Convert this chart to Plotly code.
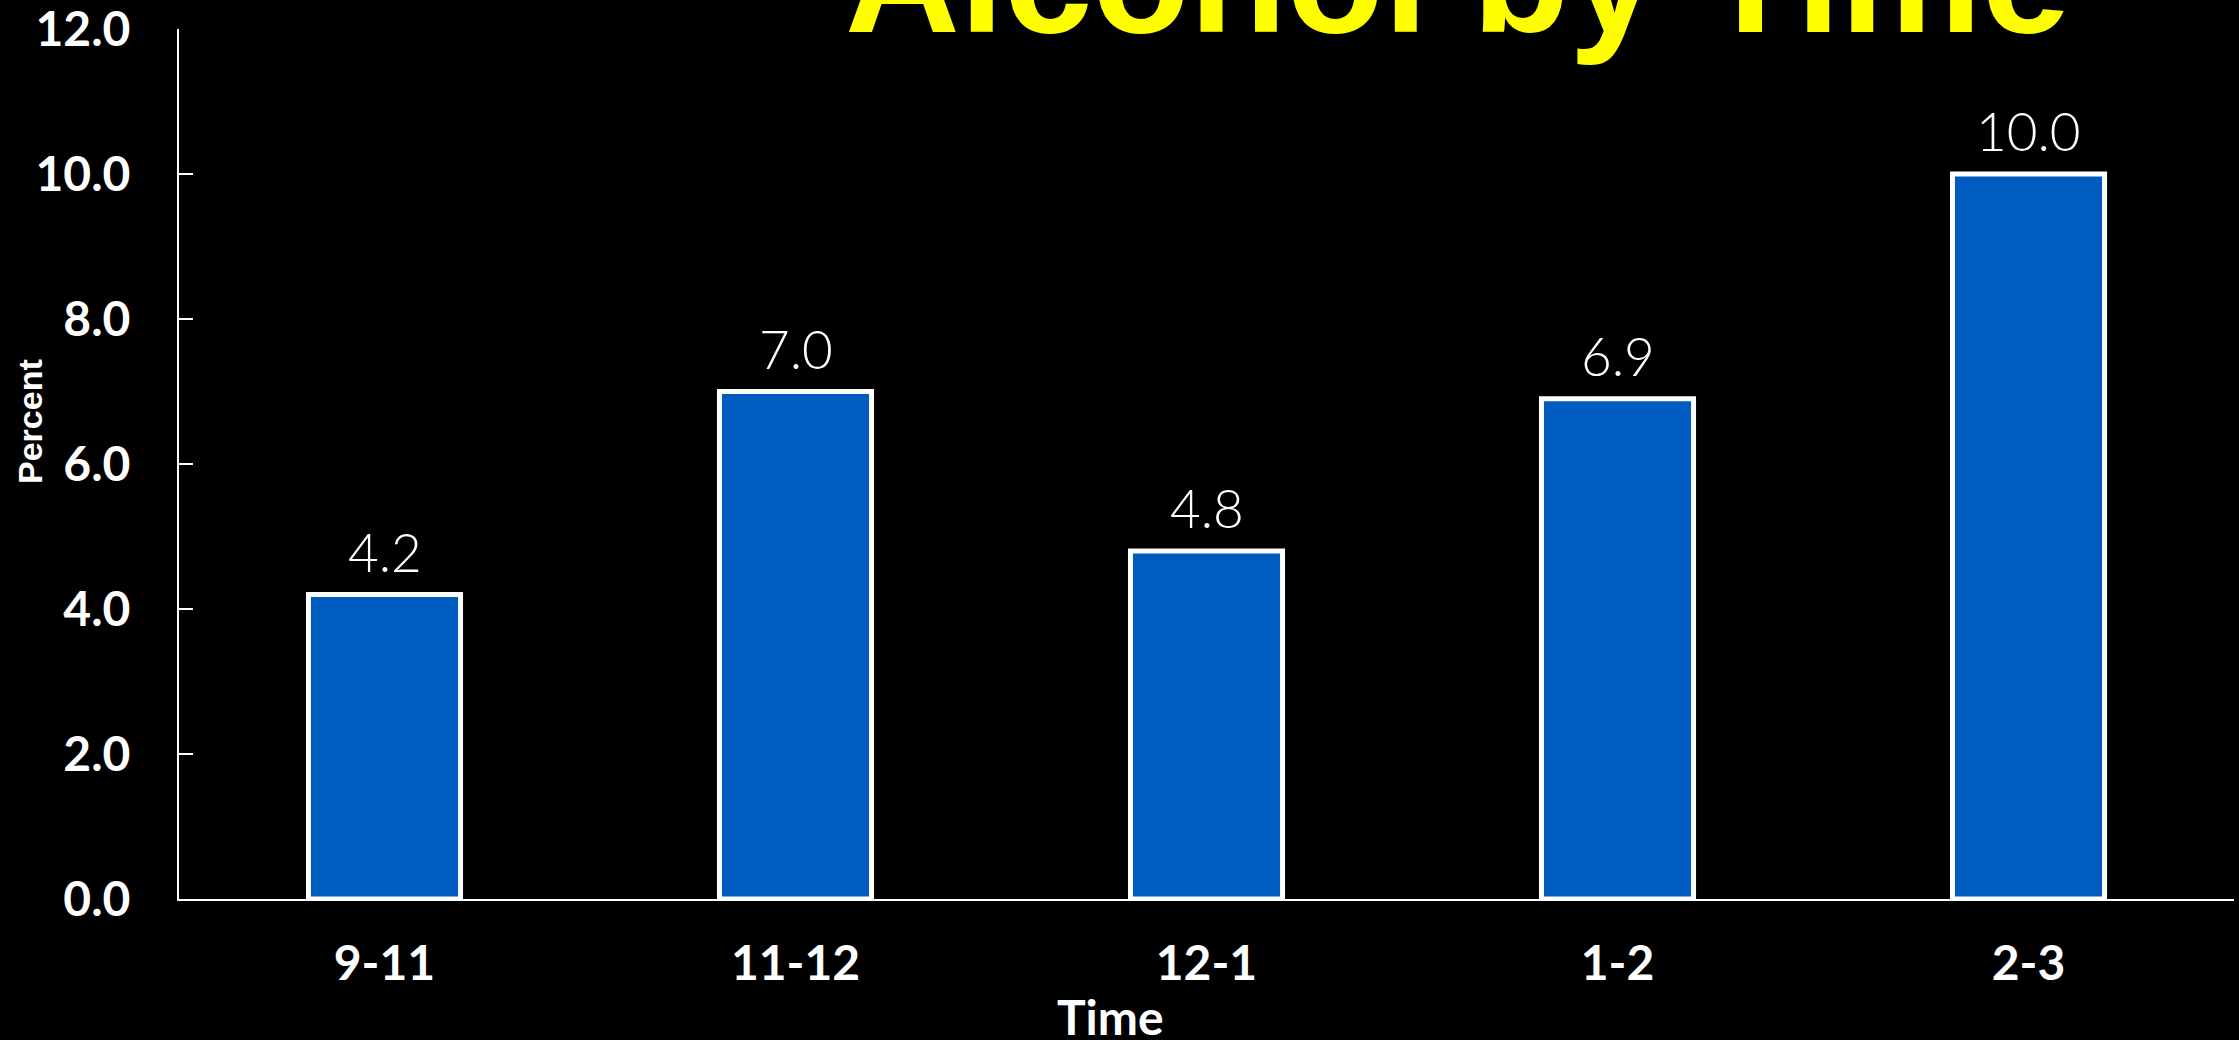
import plotly.graph_objects as go

categories = ["9-11", "11-12", "12-1", "1-2", "2-3"]
values = [4.2, 7.0, 4.8, 6.9, 10.0]
y_ticks = [0, 2, 4, 6, 8, 10, 12]
y_tick_labels = ["0.0", "2.0", "4.0", "6.0", "8.0", "10.0", "12.0"]
title_text = "Alcohol by Time"

W, H = 2239, 1040
ML, MR, MT, MB = 179, 5, 29, 141
PW, PH = W - ML - MR, H - MT - MB

fig = go.Figure()
fig.add_trace(go.Bar(
    x=categories, y=values,
    width=0.37,
    marker=dict(color="#005BBF", line=dict(color="white", width=5)),
    hoverinfo="skip",
))

for c, v in zip(categories, values):
    fig.add_annotation(
        x=c, y=v, xref="x", yref="y",
        text=f"{v:.1f}", showarrow=False,
        xanchor="center", yanchor="bottom", yshift=10,
        font=dict(family="Lato", size=53, color="white", weight=300),
    )

fig.update_layout(
    width=W, height=H,
    paper_bgcolor="black", plot_bgcolor="black",
    margin=dict(l=ML, r=MR, t=MT, b=MB),
    showlegend=False,
    xaxis=dict(
        type="category", automargin=False,
        showline=True, linecolor="white", linewidth=2,
        showgrid=False, ticks="", zeroline=False,
        tickfont=dict(family="Lato", size=48, color="white", weight="bold"),
        ticklabelstandoff=21,
        range=[-0.5, 4.5],
    ),
    yaxis=dict(
        range=[0, 12], automargin=False,
        tickvals=y_ticks, ticktext=y_tick_labels,
        showline=True, linecolor="white", linewidth=2,
        showgrid=False, zeroline=False,
        ticks="inside", ticklen=14, tickwidth=2, tickcolor="white",
        tickfont=dict(family="Lato", size=48, color="white", weight="bold"),
        ticklabelstandoff=37, ticklabeloverflow="allow",
    ),
    font=dict(family="Lato", color="white"),
)

# axis titles (placed off-centre as in the reference)
fig.add_annotation(
    text="Percent", xref="paper", yref="paper",
    x=(30 - ML) / PW, y=(H - MB - 422) / PH,
    xanchor="center", yanchor="middle", textangle=-90,
    showarrow=False,
    font=dict(family="Liberation Sans", size=34, color="white", weight="bold"),
)
fig.add_annotation(
    text="Time", xref="paper", yref="paper",
    x=(1110 - ML) / PW, y=-(1017 - (H - MB)) / PH,
    xanchor="center", yanchor="middle",
    showarrow=False,
    font=dict(family="Lato", size=48, color="white", weight="bold"),
)

fig.add_annotation(
    text=title_text, xref="paper", yref="paper",
    x=(1457 - ML) / PW, y=1 + 29 / 870 + 0.033 - 6 / PH,
    xanchor="center", yanchor="middle",
    showarrow=False,
    font=dict(family="Liberation Sans", size=159, color="#FFFF00", weight="bold"),
)

fig.write_html(
    "out.html",
    config={"displayModeBar": False},
    post_script="document.body.style.margin='0';document.body.style.background='black';document.body.style.overflow='hidden';",
)
